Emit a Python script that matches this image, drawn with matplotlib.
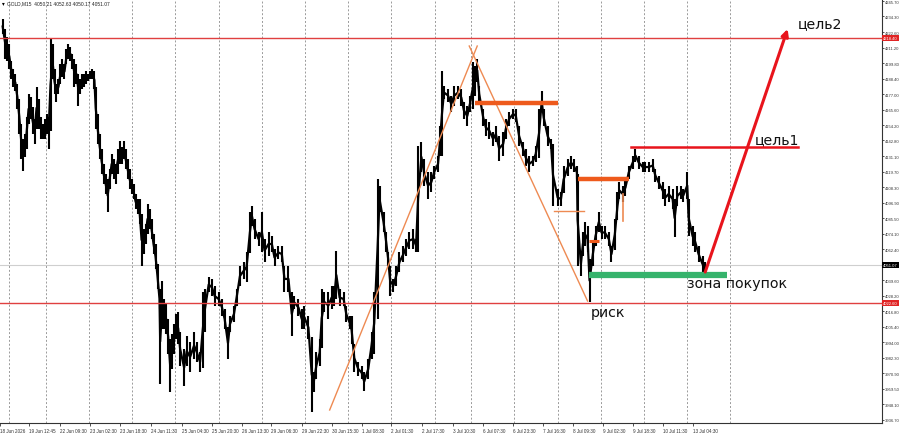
import matplotlib
matplotlib.use("Agg")
import matplotlib.pyplot as plt

# GOLD M15 bars: bar number, high, low
bars = [0, 4, 7, 10, 13, 16, 19, 22, 25, 28,
        30, 33, 36, 39, 42, 45, 48, 51, 54, 57,
        60, 63, 66, 69, 72, 75, 78, 81, 84, 87,
        90, 93, 96, 99, 102, 105, 108, 111, 114, 117,
        120, 123, 126, 129, 132, 135, 138, 140, 143, 146,
        149, 152, 155, 158, 161, 164, 167, 170, 173, 176,
        179, 182, 185, 188, 191, 194, 197, 200, 203, 206,
        209, 212, 215, 218, 221, 224, 227, 230, 233, 236,
        237, 240, 243, 246, 249, 252, 255, 258, 261, 264,
        267, 273, 277, 282, 288, 292, 297, 301, 304, 310,
        315, 319, 325, 330, 334, 339, 342, 348, 352, 357,
        363, 367, 372, 375, 379, 385, 390, 394, 400, 405,
        409, 415, 420, 424, 430, 435, 439, 445, 450, 454,
        460, 465, 468, 472, 477, 480, 484, 490, 495, 499,
        502, 507, 513, 517, 522, 525, 529, 535, 540, 544,
        550, 555, 559, 564, 567, 573, 577, 580, 583, 588,
        592, 597, 603, 607, 612, 618, 622, 625, 630, 634,
        640, 645, 649, 655, 658, 661, 664, 670, 675, 679,
        685, 690, 694, 699, 703, 708, 711, 714, 717, 723,
        727, 732, 738, 742, 747, 753, 757, 762, 768, 772,
        777, 783, 787, 792, 798, 802, 807, 811, 814, 820,
        825, 828, 835, 840, 844, 850, 855, 859, 864, 865,
        870, 873, 876, 880, 883, 888, 892, 897, 901, 906,
        912, 916, 921, 925, 928, 933, 937, 942, 948, 952,
        957, 963, 967, 972, 978, 982, 987, 993, 997, 1002,
        1008, 1011, 1015, 1020, 1024, 1030, 1032, 1038, 1042, 1047,
        1053, 1057]

highs = [4232.4, 4225.1, 4219.2, 4214.0, 4201.4, 4195.5, 4191.9, 4184.5, 4173.4, 4155.0,
         4143.9, 4147.6, 4160.1, 4177.1, 4174.9, 4167.5, 4158.6, 4182.3, 4173.4, 4160.1,
         4155.0, 4158.6, 4162.3, 4160.1, 4217.7, 4214.0, 4195.5, 4184.5, 4188.2, 4199.2,
         4202.9, 4199.2, 4210.3, 4214.0, 4211.8, 4206.6, 4202.9, 4199.2, 4191.9, 4188.2,
         4191.9, 4191.9, 4194.1, 4191.9, 4194.1, 4195.5, 4194.1, 4182.3, 4162.3, 4147.6,
         4136.5, 4125.4, 4118.1, 4114.4, 4121.7, 4132.8, 4129.1, 4125.4, 4136.5, 4142.4,
         4138.0, 4142.4, 4136.5, 4129.1, 4121.7, 4114.4, 4110.7, 4103.3, 4099.6, 4099.6,
         4088.5, 4077.5, 4081.2, 4095.9, 4092.2, 4084.8, 4073.8, 4066.4, 4051.6, 4033.2,
         4025.8, 4039.1, 4025.8, 4022.1, 4011.0, 3996.3, 4000.0, 4007.4, 4014.7, 4016.2,
         4001.5, 3988.9, 3998.5, 3994.1, 4001.5, 3994.1, 3986.7, 4031.0, 4033.2, 4042.0,
         4040.6, 4035.4, 4031.0, 4025.8, 4018.4, 4005.0, 4013.3, 4020.6, 4033.2, 4050.2,
         4053.1, 4060.5, 4090.0, 4094.4, 4084.8, 4075.3, 4090.0, 4070.1, 4075.3, 4072.3,
         4062.7, 4064.9, 4064.9, 4050.2, 4050.2, 4031.0, 4028.0, 4025.8, 4018.4, 4020.6,
         4013.3, 3998.0, 3971.9, 3986.7, 3996.3, 4033.2, 4031.0, 4031.0, 4035.4, 4035.4,
         4061.2, 4033.2, 4031.0, 4020.6, 4013.3, 4013.3, 3992.6, 3979.3, 3976.4, 3971.9,
         3981.5, 4001.5, 4031.0, 4114.4, 4109.2, 4090.0, 4075.3, 4060.5, 4050.0, 4040.6,
         4050.2, 4060.5, 4064.9, 4070.1, 4075.3, 4077.5, 4070.1, 4138.7, 4141.7, 4129.1,
         4119.5, 4119.5, 4124.0, 4131.3, 4153.5, 4194.1, 4183.0, 4180.8, 4175.6, 4183.0,
         4183.0, 4180.8, 4171.2, 4168.2, 4175.6, 4200.7, 4197.8, 4202.9, 4183.0, 4166.0,
         4158.6, 4156.4, 4149.1, 4153.5, 4146.1, 4149.1, 4158.6, 4163.8, 4166.0, 4166.0,
         4153.5, 4141.7, 4136.5, 4131.3, 4131.3, 4138.7, 4166.0, 4179.3, 4166.0, 4153.5,
         4143.9, 4140.2, 4107.0, 4104.8, 4124.0, 4129.1, 4131.3, 4129.1, 4124.0, 4118.1,
         4060.5, 4075.3, 4082.6, 4079.7, 4055.3, 4067.9, 4079.7, 4090.0, 4079.7, 4079.7,
         4075.3, 4064.9, 4084.8, 4104.8, 4112.2, 4109.2, 4114.4, 4124.0, 4131.3, 4136.5,
         4131.3, 4126.9, 4126.9, 4126.9, 4129.1, 4121.7, 4116.6, 4112.2, 4107.0, 4109.2,
         4107.0, 4099.6, 4109.2, 4109.2, 4107.0, 4119.5, 4099.6, 4079.7, 4075.3, 4064.9,
         4057.5, 4053.1]

lows = [4221.4, 4202.9, 4201.4, 4195.5, 4188.2, 4182.3, 4179.3, 4166.0, 4147.6, 4129.1,
        4120.3, 4130.6, 4136.5, 4155.0, 4158.6, 4147.6, 4140.2, 4151.3, 4151.3, 4143.9,
        4143.9, 4143.9, 4147.6, 4136.5, 4150.0, 4188.2, 4177.1, 4171.2, 4177.1, 4184.5,
        4189.6, 4188.2, 4199.2, 4202.9, 4201.4, 4195.5, 4182.3, 4184.5, 4168.2, 4177.1,
        4180.8, 4182.3, 4184.5, 4186.7, 4188.2, 4188.2, 4180.8, 4151.3, 4140.2, 4129.1,
        4118.1, 4110.7, 4103.3, 4090.0, 4107.0, 4118.1, 4114.4, 4110.7, 4118.1, 4125.4,
        4125.4, 4129.1, 4121.7, 4114.4, 4107.0, 4103.3, 4099.6, 4092.2, 4088.5, 4081.2,
        4050.2, 4059.0, 4066.4, 4073.8, 4077.5, 4070.1, 4059.0, 4047.9, 4033.2, 4018.4,
        3963.1, 4003.7, 4003.7, 4000.0, 3985.2, 3957.2, 3974.1, 3985.2, 3996.3, 3992.6,
        3976.4, 3961.6, 3976.4, 3971.9, 3981.5, 3979.3, 3971.9, 3975.0, 4001.5, 4031.0,
        4028.0, 4020.6, 4020.6, 4013.3, 4003.7, 3981.5, 4001.5, 4008.8, 4020.6, 4035.4,
        4040.6, 4038.4, 4060.0, 4079.7, 4070.1, 4064.9, 4060.5, 4053.1, 4057.5, 4060.5,
        4050.2, 4055.3, 4053.1, 4031.0, 4031.0, 3998.5, 4018.4, 4013.3, 4003.7, 4003.7,
        3996.3, 3942.4, 3957.2, 3966.8, 3976.4, 3990.0, 4016.2, 4011.0, 4018.4, 4020.6,
        4025.8, 4020.6, 4020.6, 4008.8, 4003.7, 3992.6, 3971.9, 3969.0, 3966.8, 3957.9,
        3966.8, 3981.5, 3985.0, 4011.0, 4090.0, 4075.3, 4060.5, 4050.2, 4028.0, 4031.0,
        4035.4, 4045.7, 4053.1, 4057.5, 4062.7, 4062.7, 4060.5, 4060.5, 4119.5, 4109.2,
        4099.6, 4104.8, 4114.4, 4119.5, 4131.3, 4131.3, 4173.4, 4171.2, 4163.8, 4168.2,
        4173.4, 4168.2, 4158.6, 4153.5, 4163.8, 4166.0, 4175.6, 4186.0, 4171.2, 4153.5,
        4146.1, 4143.9, 4138.7, 4141.7, 4127.6, 4131.3, 4143.9, 4153.5, 4158.6, 4156.4,
        4138.7, 4131.3, 4124.0, 4119.5, 4124.0, 4126.9, 4130.0, 4163.8, 4153.5, 4138.7,
        4136.5, 4094.4, 4094.4, 4094.4, 4104.0, 4116.6, 4121.7, 4119.5, 4114.4, 4050.2,
        4042.8, 4057.5, 4064.9, 4060.5, 4023.6, 4050.2, 4064.9, 4075.3, 4070.1, 4070.1,
        4064.9, 4053.1, 4062.0, 4084.0, 4099.6, 4097.4, 4101.8, 4114.4, 4121.7, 4126.9,
        4121.7, 4119.5, 4119.5, 4119.5, 4119.5, 4112.2, 4107.0, 4099.6, 4094.4, 4097.4,
        4092.2, 4071.6, 4094.4, 4099.6, 4097.4, 4099.6, 4072.3, 4064.9, 4060.5, 4053.1,
        4045.7, 4042.8]

# price scale labels on the right
price_ticks = [4245.70, 4234.30, 4222.60, 4211.20, 4199.80, 4188.40, 4177.00, 4165.60,
               4154.20, 4142.80, 4131.10, 4119.70, 4108.30, 4096.90, 4085.50, 4074.10,
               4062.40, 4039.60, 4028.20, 4016.80, 4005.40, 3994.00, 3982.30, 3970.90,
               3959.50, 3948.10, 3936.70]

# time scale labels
time_ticks = [-4, 40, 87, 132, 177, 223, 270, 315, 360, 403, 450, 495,
              540, 585, 631, 678, 723, 768, 813, 858, 903, 948, 993, 1038]
time_labels = ["18 Jun 2026", "19 Jun 12:45", "22 Jun 09:30", "23 Jun 02:30",
               "23 Jun 18:30", "24 Jun 11:30", "25 Jun 04:30", "25 Jun 20:30",
               "26 Jun 13:30", "29 Jun 06:30", "29 Jun 22:30", "30 Jun 15:30",
               "1 Jul 08:30", "2 Jul 01:30", "2 Jul 17:30", "3 Jul 10:30",
               "6 Jul 07:30", "6 Jul 23:30", "7 Jul 16:30", "8 Jul 09:30",
               "9 Jul 02:30", "9 Jul 18:30", "10 Jul 11:30", "13 Jul 04:30"]
grid_bars = [10, 65, 130, 195, 260, 325, 390, 455, 520, 585, 650, 705,
             770, 835, 900, 965, 1030, 1095]

last_price = 4051.07
red_levels = [4218.40, 4022.60]

# drawn objects (bar, price)
rise_line = ([492, 714], [3943.9, 4212.5])
fall_line = ([702, 880], [4212.5, 4024.3])
thick_levels = [(711, 836, 4170.5), (865, 942, 4114.4)]
small_level = (882, 897, 4068.6)
thin_level = (829, 874, 4090.7)
thin_tick = (934, 4103.3, 4083.4)
target1 = (946, 1197, 4138.0)
arrow_from = (1057, 4045.7)
arrow_to = (1181, 4225.1)
buy_zone = (882, 1090, 4043.5)

small_font = 'Liberation Sans'

fig = plt.figure(figsize=(9, 4.35), dpi=100)
ax = fig.add_axes([0, 11 / 435, 882 / 900, 424 / 435])
ax.set_xlim(0, 1323)
ax.set_ylim(3934.3, 4247.2)

for g in grid_bars:
    ax.axvline(g, color='#9a9a9a', lw=0.7, ls=(0, (2, 2)), zorder=1)

ax.axhline(last_price, color='#cfcfcf', lw=0.8, zorder=1)
for lv in red_levels:
    ax.axhline(lv, color='#e04040', lw=1.0, zorder=4)

# price bars: high-low sticks plus a line through the middle of each bar
mids = [(h + l) / 2 for h, l in zip(highs, lows)]
ax.vlines(bars, lows, highs, color='black', lw=1.5, zorder=2)
ax.plot(bars, mids, color='black', lw=1.6, zorder=2)

# orange construction lines
ax.plot(*rise_line, color='#ee8a52', lw=1.0, zorder=3)
ax.plot(*fall_line, color='#ee8a52', lw=1.0, zorder=3)
for x0, x1, p in thick_levels:
    ax.plot([x0, x1], [p, p], color='#ee5a1c', lw=3.2, solid_capstyle='butt', zorder=3)
ax.plot(small_level[:2], [small_level[2]] * 2, color='#ee5a1c', lw=2.2, solid_capstyle='butt', zorder=3)
ax.plot(thin_level[:2], [thin_level[2]] * 2, color='#ee8a52', lw=1.0, zorder=3)
ax.plot([thin_tick[0]] * 2, thin_tick[1:], color='#ee8a52', lw=1.2, zorder=3)

# targets and buy zone
ax.plot(target1[:2], [target1[2]] * 2, color='#e8141c', lw=1.8, zorder=4)
ax.plot(buy_zone[:2], [buy_zone[2]] * 2, color='#36b36c', lw=4.5, solid_capstyle='butt', zorder=4)
ax.annotate('', xy=arrow_to, xytext=arrow_from,
            arrowprops=dict(arrowstyle='-|>', color='#e8141c', lw=2.2, mutation_scale=10,
                            shrinkA=0, shrinkB=0), zorder=5)

ax.text(1196, 4226.5, 'цель2', fontsize=10.2, color='#111111', va='baseline')
ax.text(1132, 4140.9, 'цель1', fontsize=10.2, color='#111111', va='baseline')
ax.text(1030, 4034.7, 'зона покупок', fontsize=10.2, color='#111111', va='baseline')
ax.text(885, 4013.5, 'риск', fontsize=10.2, color='#111111', va='baseline')

# axes styling, MT4 look
for s in ['top', 'left']:
    ax.spines[s].set_visible(False)
for s in ['right', 'bottom']:
    ax.spines[s].set_color('#333333')
    ax.spines[s].set_linewidth(0.8)

ax.yaxis.tick_right()
ax.set_yticks(price_ticks, [f"{v:.2f}" for v in price_ticks])
ax.tick_params(axis='y', labelsize=3.0, length=1.5, pad=0.5, width=0.6, colors='#333333')
ax.set_xticks(time_ticks, time_labels)
ax.tick_params(axis='x', labelsize=3.3, length=2, pad=1.5, width=0.6, colors='#333333')
for lbl in ax.get_xticklabels() + ax.get_yticklabels():
    lbl.set_family(small_font)
for lbl in ax.get_xticklabels():
    lbl.set_ha('left')

box_kw = dict(xycoords=('axes fraction', 'data'), xytext=(1.0, 0), textcoords='offset points',
              ha='left', va='center', fontsize=3.0, family=small_font, color='white',
              annotation_clip=False, zorder=10)
for lv in red_levels:
    ax.annotate(f"{lv:.2f}", xy=(1, lv),
                bbox=dict(boxstyle='square,pad=0.25', fc='#e02424', ec='none'), **box_kw)
ax.annotate(f"{last_price:.2f}", xy=(1, last_price),
            bbox=dict(boxstyle='square,pad=0.25', fc='black', ec='none'), **box_kw)

fig.text(2 / 900, 1 - 4 / 435, '▾', fontsize=4, va='center')
fig.text(7 / 900, 1 - 4 / 435, 'GOLD,M15  4050.21 4052.63 4050.17 4051.07',
         fontsize=3.5, family=small_font, va='center', color='#222222')

fig.savefig('out.png', dpi=100)
